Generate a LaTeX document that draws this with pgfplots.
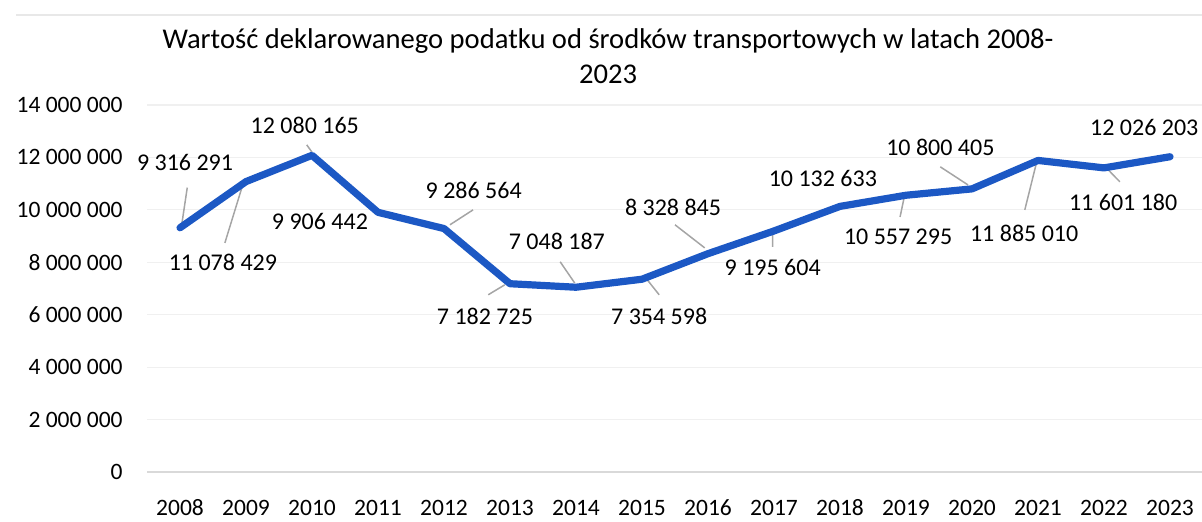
\documentclass[border=0pt]{standalone}
\usepackage{pgfplots}
\pgfplotsset{compat=1.18}
\usepackage{fontspec}
\setmainfont{Carlito}
\definecolor{lineblue}{RGB}{28,88,196}
\definecolor{leader}{RGB}{165,165,165}
\begin{document}
\begin{tikzpicture}
\path[use as bounding box] (0,0) rectangle (601pt,260.5pt);
\draw[gray!18, line width=0.8pt] (8pt,253pt) -- (601pt,253pt);
\node[anchor=base, inner sep=0pt, font=\fontsize{14.3}{17}\selectfont] at (304pt,236.5pt) {Wartość deklarowanego podatku od środków transportowych w latach 2008-};
\node[anchor=base, inner sep=0pt, font=\fontsize{14.3}{17}\selectfont] at (304pt,219pt) {2023};
\begin{axis}[
  at={(73.5pt,24.5pt)}, anchor=south west,
  scale only axis, width=528pt, height=183.5pt,
  xmin=-0.5, xmax=15.5, ymin=0, ymax=14000000,
  clip=false,
  axis line style={draw=none},
  tick style={draw=none},
  xtick={0,...,15},
  xticklabels={2008,2009,2010,2011,2012,2013,2014,2015,2016,2017,2018,2019,2020,2021,2022,2023},
  ytick={0,2000000,4000000,6000000,8000000,10000000,12000000,14000000},
  yticklabels={0,2 000 000,4 000 000,6 000 000,8 000 000,10 000 000,12 000 000,14 000 000},
  /pgf/number format/assume math mode=true,
  scaled y ticks=false,
  ymajorgrids, grid style={gray!12, line width=0.6pt},
  extra y ticks={0}, extra y tick labels={},
  extra y tick style={grid style={gray!30, line width=0.8pt}},
  yticklabel style={anchor=east, inner sep=0pt, xshift=-12pt, font=\fontsize{11.75}{14}\selectfont},
  xticklabel style={anchor=base, inner sep=0pt, yshift=-21.5pt, font=\fontsize{11.75}{14}\selectfont},
]
% leader lines
\addplot[leader, line width=0.75pt, unbounded coords=jump, forget plot] coordinates {
  (0.11,10850000) (0.03,9500000) (nan,nan)
  (0.68,8740000) (0.95,10950000) (nan,nan)
  (1.92,12480000) (2.0,12200000) (nan,nan)
  (4.09,9430000) (4.44,10000000) (nan,nan)
  (4.92,7140000) (4.67,6760000) (nan,nan)
  (5.76,8020000) (5.98,7210000) (nan,nan)
  (7.08,7330000) (7.26,6760000) (nan,nan)
  (7.50,9430000) (7.95,8550000) (nan,nan)
  (8.98,9160000) (8.98,8590000) (nan,nan)
  (10.98,10570000) (10.91,9730000) (nan,nan)
  (11.52,11640000) (11.94,10950000) (nan,nan)
  (12.98,11830000) (12.80,10000000) (nan,nan)
  (14.02,11640000) (14.24,11070000)
};
% main series
\addplot[lineblue, line width=3.6pt, line join=round, line cap=round, mark=none] table {
x y
0 9316291
1 11078429
2 12080165
3 9906442
4 9286564
5 7182725
6 7048187
7 7354598
8 8328845
9 9195604
10 10132633
11 10557295
12 10800405
13 11885010
14 11601180
15 12026203
};
% data labels
\addplot[draw=none, mark=none, nodes near coords, point meta=explicit symbolic,
  every node near coord/.style={anchor=center, inner sep=0pt, font=\fontsize{12}{14}\selectfont, text=black}]
  table[x=lx, y=ly, meta=lab] {
lx ly lab
0.076 11790000 {9 316 291}
0.65 7980000 {11 078 429}
1.89 13240000 {12 080 165}
2.12 9540000 {9 906 442}
4.45 10730000 {9 286 564}
4.62 5920000 {7 182 725}
5.71 8780000 {7 048 187}
7.26 5920000 {7 354 598}
7.47 10110000 {8 328 845}
8.98 7790000 {9 195 604}
9.74 11180000 {10 132 633}
10.88 8970000 {10 557 295}
11.52 12370000 {10 800 405}
12.79 9120000 {11 885 010}
14.29 10270000 {11 601 180}
14.61 13130000 {12 026 203}
};
\end{axis}
\end{tikzpicture}
\end{document}
